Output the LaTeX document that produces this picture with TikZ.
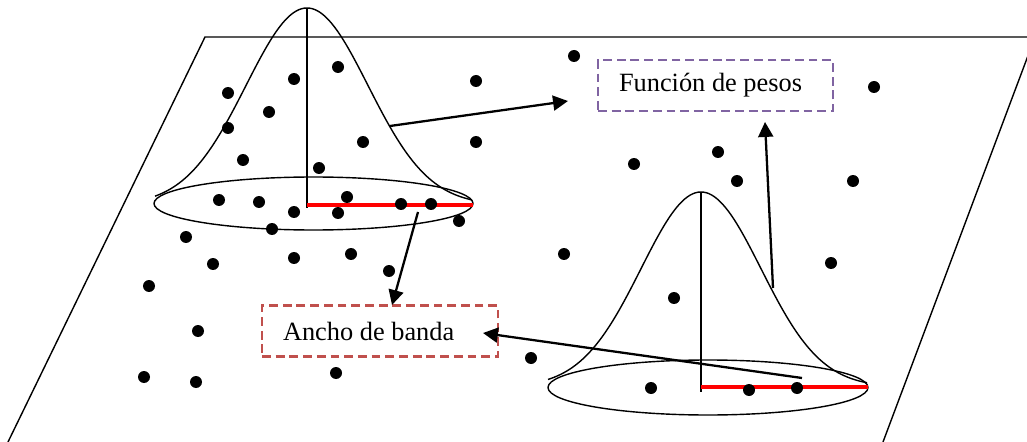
\documentclass[tikz,border=0pt]{standalone}
\usepackage{fontspec}
\setmainfont{Liberation Serif}
\usetikzlibrary{arrows.meta}
\definecolor{boxpurple}{HTML}{8064A2}
\definecolor{boxred}{HTML}{C0504D}
\begin{document}
\begin{tikzpicture}[x=0.02cm,y=-0.02cm,
  thinline/.style={line width=0.8pt},
  arr/.style={line width=1.3pt,-{Triangle[length=8.5pt,width=8.5pt]}},
  bandline/.style={red,line width=1.8pt},
  labelbox/.style={draw,line width=1.4pt,dash pattern=on 5pt off 2.8pt,
    minimum height=0.2cm*5.1,inner xsep=0.42cm,
    font=\fontsize{15}{18}\selectfont},
  dotmark/.style={fill=black}]
\useasboundingbox (0,0) rectangle (1027,442);
% plane
\begin{scope}
\clip (0,0) rectangle (1027,442);
\draw[thinline] (8,442) -- (205,37) -- (1035,37) -- (883,442);
\end{scope}
% bell 1
\draw[thinline] (313.5,203.5) ellipse [x radius=159.5, y radius=26.5];
\draw[thinline] plot[domain=155:472,samples=120,smooth] (\x,{205-197*exp(-0.5*((\x-307)/61)^2)});
\draw[thinline] (307,8) -- (307,208);
\draw[bandline] (307,205) -- (473,205);
% bell 2
\draw[thinline] (708,387.5) ellipse [x radius=160, y radius=27.5];
\draw[thinline] plot[domain=548:867,samples=120,smooth] (\x,{387-195*exp(-0.5*((\x-701)/60)^2)});
\draw[thinline] (701,192) -- (701,392);
\draw[bandline] (701,387) -- (868,387);
% dots
\foreach \p in {(228,93),(294,79),(338,67),(269,112),(228,128),(363,142),(243,160),(319,168),(476,81),(476,142),(574,56),
  (219,200),(259,202),(294,212),(347,197),(338,213),(401,204),(431,204),(459,221),(272,229),
  (186,237),(213,264),(294,258),(351,254),(389,271),(149,286),(198,331),(144,377),(196,382),(336,373),
  (634,164),(718,152),(737,181),(853,181),(874,87),(564,254),(831,263),(674,298),(531,358),(651,388),(749,390),(797,388)}
  \fill[dotmark] \p circle (0.12cm);
% label boxes
\node[labelbox,draw=boxpurple] (pesos) at (715.5,85.5) {\makebox[3.86cm][l]{Función de pesos}};
\node[labelbox,draw=boxred] (banda) at (380,331) {\makebox[3.88cm][l]{Ancho de banda}};
% arrow endpoints
\coordinate (s1) at (390,126); \coordinate (e1) at (568,101);
\coordinate (s2) at (773,288); \coordinate (e2) at (765,122);
\coordinate (s3) at (418,212); \coordinate (e3) at (392,305);
\coordinate (s4) at (802,378); \coordinate (e4) at (483,333);
\draw[arr] (s1) -- (e1);
\draw[arr] (s2) -- (e2);
\draw[arr] (s3) -- (e3);
\draw[arr] (s4) -- (e4);
\end{tikzpicture}
\end{document}
